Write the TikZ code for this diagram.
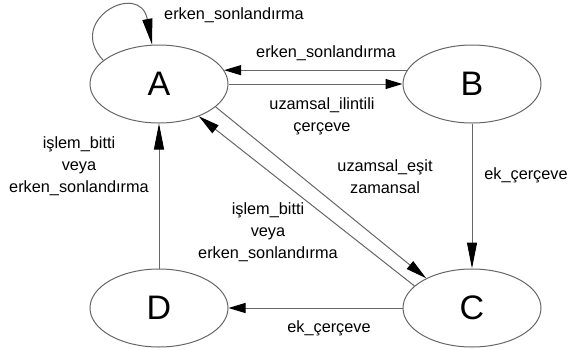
\documentclass[tikz,border=0pt]{standalone}
\usepackage{fontspec}
\setmainfont{Liberation Sans}
\usepackage{tikz}
\usetikzlibrary{
	arrows.meta,
	shapes.geometric
}

\tikzset{
	durum/.style={draw=black!60, line width=1pt, ellipse, minimum width=138pt, minimum height=78pt, inner sep=0pt, font=\fontsize{34}{34}\selectfont},
	gecis/.style={draw=black!60, line width=1pt, -{Triangle[length=17pt, width=10pt, color=black, fill=black]}},
	dikok/.style={-{Triangle[length=26pt, width=10pt, color=black, fill=black]}},
	capok/.style={-{Triangle[length=21pt, width=10pt, color=black, fill=black]}},
	etiket/.style={font=\fontsize{16.3}{22}\selectfont, align=center, inner sep=0pt}
}

\begin{document}
\begin{tikzpicture}[x=1pt, y=-1pt]
		\useasboundingbox (0,0) rectangle (571,349);
		
		% durumlar
		\node[durum] (A) at (159,84) {A};
		\node[durum] (B) at (472,84) {B};
		\node[durum] (C) at (472,308) {C};
		\node[durum] (D) at (159,308) {D};
		
		% A -> A
		\draw[gecis, dikok] (A.157) .. controls (65,20) and (140,-20) .. (A.100);
		
		% A <-> B
		\draw[gecis] (B.168) -- (A.12);
		\draw[gecis] (A.east) -- (B.west);
		
		% B -> C, C -> D, D -> A
		\draw[gecis, dikok] (B.south) -- (C.north);
		\draw[gecis] (C.west) -- (D.east);
		\draw[gecis, dikok] (D.north) -- (A.south);
		
		% A <-> C
		\draw[gecis, capok] (A.-22) -- (C.147);
		\draw[gecis, capok] (C.159) -- (A.-39);
		
		% etiketler
		\node[etiket] (l1) at (234,15) {erken\_sonlandırma};
		\node[etiket] (l2) at (326,53) {erken\_sonlandırma};
		\node[etiket] (l3) at (322,116) {uzamsal\_ilintili\\çerçeve};
		\node[etiket] (l4) at (385,177) {uzamsal\_eşit\\zamansal};
		\node[etiket] (l5) at (526,175) {ek\_çerçeve};
		\node[etiket] (l6) at (79,166) {işlem\_bitti\\veya\\erken\_sonlandırma};
		\node[etiket] (l7) at (268,232) {işlem\_bitti\\veya\\erken\_sonlandırma};
		\node[etiket] (l8) at (329,328) {ek\_çerçeve};
	\end{tikzpicture}
\end{document}
